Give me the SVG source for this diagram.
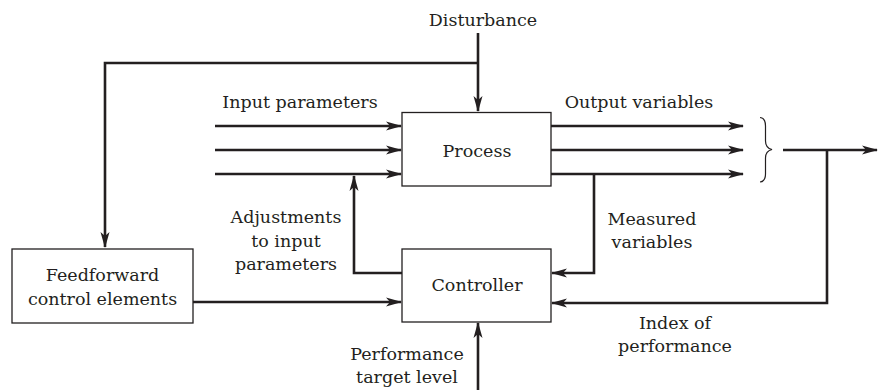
<svg xmlns="http://www.w3.org/2000/svg" width="878" height="390" viewBox="0 0 878 390">
<style>
  .box { fill: #fff; stroke: #231f20; stroke-width: 1.3; }
  .t { font-family: "DejaVu Serif", "Liberation Serif", serif; font-size: 17.5px; fill: #231f20; text-anchor: middle; }
  .c { fill: none; stroke: #231f20; stroke-width: 2.6; stroke-linejoin: miter; }
  .c.a { marker-end: url(#ah); }
  .brace { fill: none; stroke: #231f20; stroke-width: 1.2; }
</style>
<defs>
  <marker id="ah" viewBox="0 0 16 10" refX="15" refY="5" markerWidth="16" markerHeight="10" markerUnits="userSpaceOnUse" orient="auto">
    <path d="M0,0.5 L16,5 L0,9.5 L4,5 Z" fill="#231f20"/>
  </marker>
</defs>
<rect width="878" height="390" fill="#fff"/>

<g id="connectors">
  <!-- disturbance into process -->
  <path class="c a" d="M478,33 L478,111"/>
  <!-- feedforward loop -->
  <path class="c a" d="M478,63 L105,63 L105,247"/>
  <!-- input parameters -->
  <path class="c a" d="M215,126 L401,126"/>
  <path class="c a" d="M215,150 L401,150"/>
  <path class="c a" d="M215,174 L401,174"/>
  <!-- output variables -->
  <path class="c a" d="M551,126 L743,126"/>
  <path class="c a" d="M551,150 L743,150"/>
  <path class="c a" d="M551,174 L743,174"/>
  <!-- brace -->
  <path class="brace" d="M760,117.5 Q765.5,118 765.5,126 L765.5,141 Q765.5,148 772,149.5 Q765.5,151 765.5,158 L765.5,174 Q765.5,181.5 760,182"/>
  <!-- output overall -->
  <path class="c a" d="M783,150 L877,150"/>
  <!-- adjustments -->
  <path class="c a" d="M402,273 L354,273 L354,176"/>
  <!-- measured variables -->
  <path class="c a" d="M594,174 L594,273 L552,273"/>
  <!-- index of performance -->
  <path class="c a" d="M827,150 L827,303 L552,303"/>
  <!-- feedforward to controller -->
  <path class="c a" d="M193,302 L401,302"/>
  <!-- performance target -->
  <path class="c a" d="M478,390 L478,323"/>
</g>

<g id="process">
  <rect class="box" x="402" y="112.5" width="149" height="73.5"/>
  <text class="t" x="477" y="157">Process</text>
</g>

<g id="controller">
  <rect class="box" x="402" y="249" width="149" height="73"/>
  <text class="t" x="477" y="291">Controller</text>
</g>

<g id="feedforward">
  <rect class="box" x="12" y="249" width="181" height="74"/>
  <text class="t" x="102.5" y="281">Feedforward</text>
  <text class="t" x="102.5" y="305">control elements</text>
</g>

<g id="labels">
  <text class="t" x="483" y="26">Disturbance</text>
  <text class="t" x="300" y="108">Input parameters</text>
  <text class="t" x="639" y="108">Output variables</text>
  <text class="t" x="286" y="223">Adjustments</text>
  <text class="t" x="286" y="247">to input</text>
  <text class="t" x="286" y="270">parameters</text>
  <text class="t" x="652" y="225">Measured</text>
  <text class="t" x="652" y="248">variables</text>
  <text class="t" x="675" y="329">Index of</text>
  <text class="t" x="675" y="352">performance</text>
  <text class="t" x="407" y="360">Performance</text>
  <text class="t" x="407" y="383">target level</text>
</g>
</svg>
